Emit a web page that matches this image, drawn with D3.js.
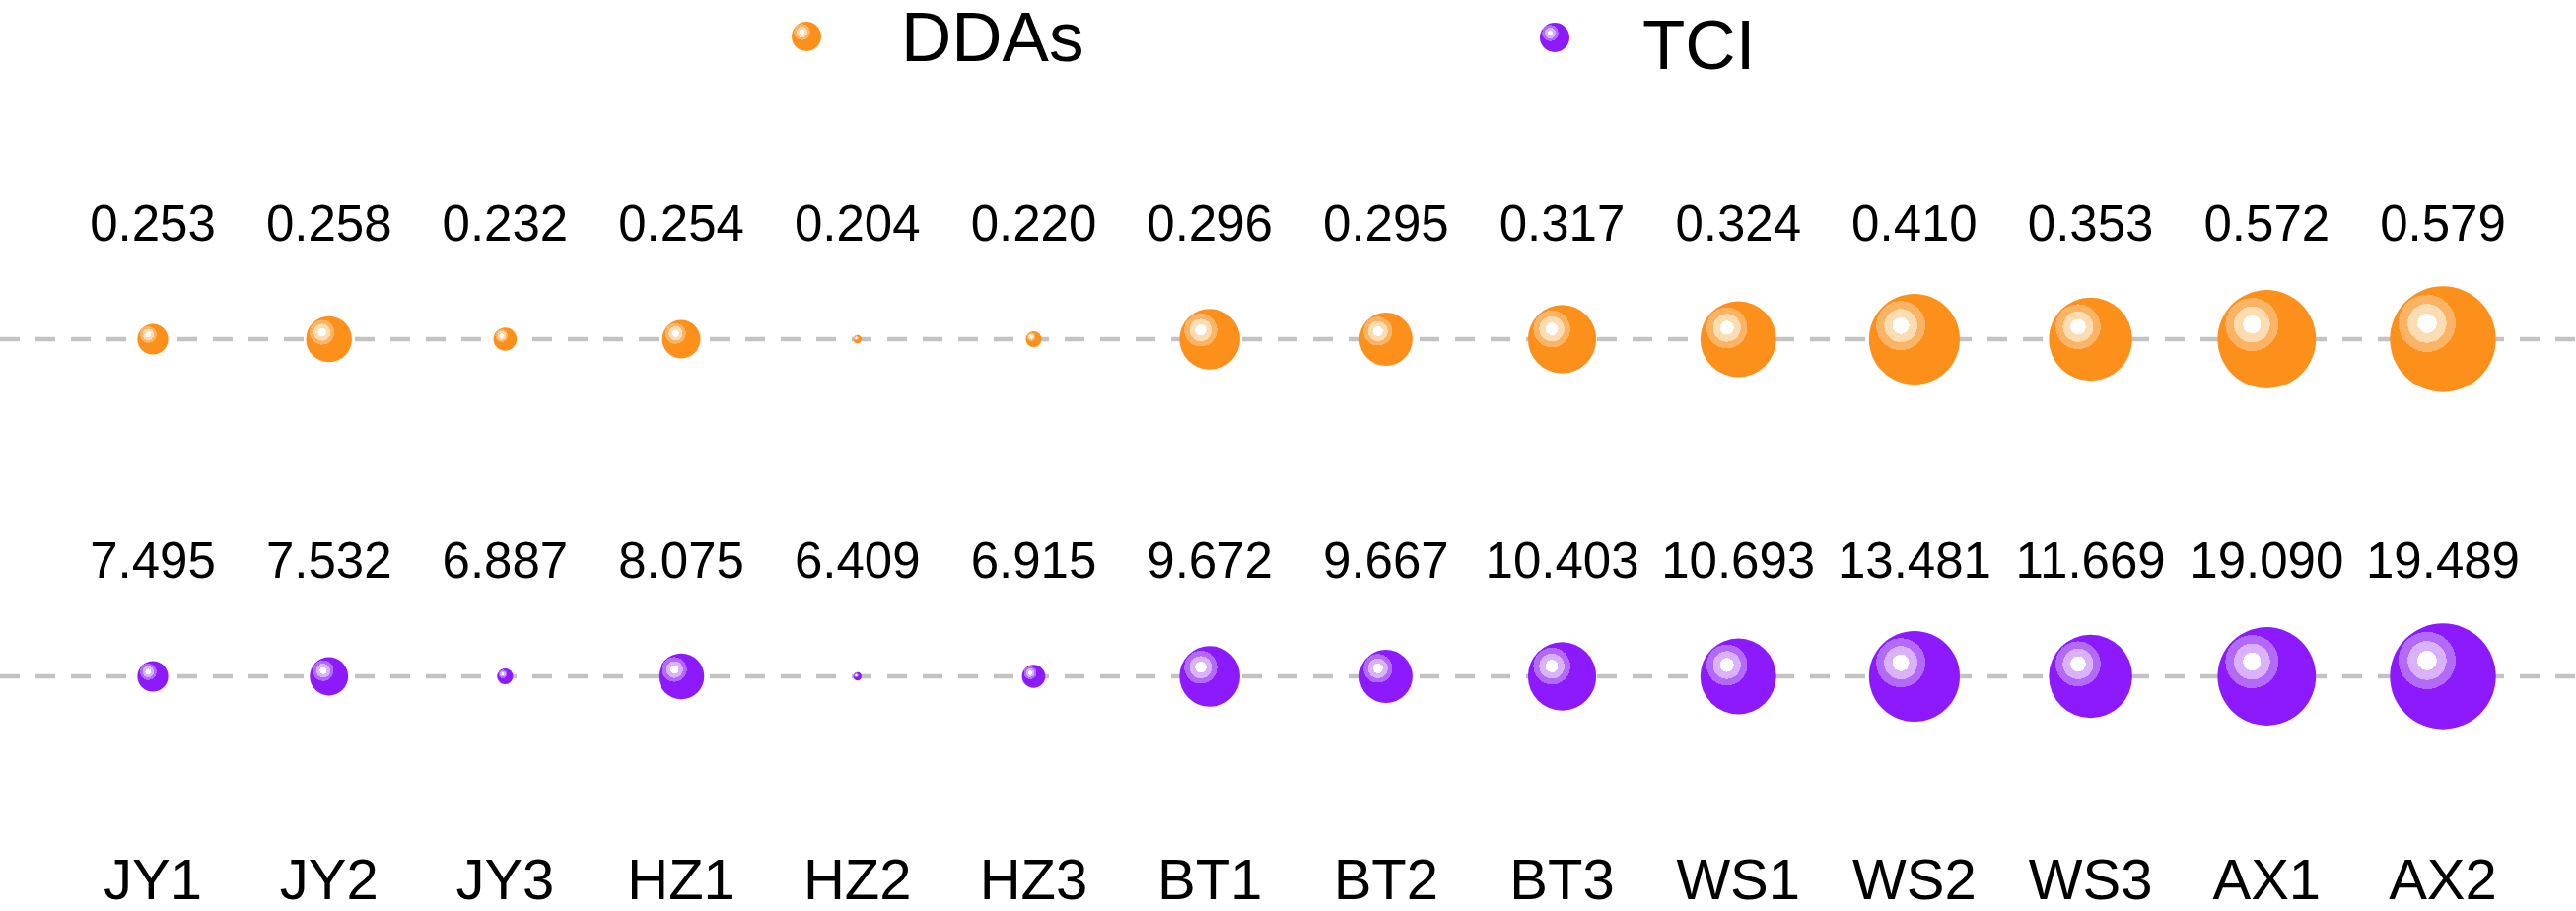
<!DOCTYPE html>
<html>
<head>
<meta charset="utf-8">
<script src="https://cdn.jsdelivr.net/npm/d3@7"></script>
<style>
body { margin: 0; background: #fff; }
svg text { font-family: "Liberation Sans", Arial, sans-serif; fill: #000; }
</style>
</head>
<body>
<script>
var sites = ["JY1", "JY2", "JY3", "HZ1", "HZ2", "HZ3", "BT1", "BT2", "BT3", "WS1", "WS2", "WS3", "AX1", "AX2"];
var ddas = [0.253, 0.258, 0.232, 0.254, 0.204, 0.220, 0.296, 0.295, 0.317, 0.324, 0.410, 0.353, 0.572, 0.579];
var tci = [7.495, 7.532, 6.887, 8.075, 6.409, 6.915, 9.672, 9.667, 10.403, 10.693, 13.481, 11.669, 19.090, 19.489];
var seriesNames = ["DDAs", "TCI"];

var w = 2613;
var h = 924;

var colors = {
    DDAs: { base: "#fd901b", ring: "#fbb466", inner: "#fddcb2" },
    TCI: { base: "#8d19fd", ring: "#b26bf8", inner: "#dab2fb" }
};

var svg = d3.select("body")
            .append("svg")
            .attr("width", w)
            .attr("height", h);

var x = d3.scalePoint().domain(sites).range([155, 2478]);
var y = d3.scalePoint().domain(seriesNames).range([344, 686]);
var r = d3.scaleLinear().domain([1, sites.length]).range([4.2, 53.7]);
var fmt = d3.format(".3f");

function ranks(values) {
    var sorted = values.slice().sort(d3.ascending);
    return values.map(function(v) { return sorted.indexOf(v) + 1; });
}

// shiny ball fill: stepped radial gradient in the upper left
var defs = svg.append("defs");
seriesNames.forEach(function(s) {
    var g = defs.append("radialGradient")
        .attr("id", "ball-" + s)
        .attr("cx", 0.35).attr("cy", 0.35).attr("r", 0.27)
        .attr("fx", 0.35).attr("fy", 0.35);
    var stops = [
        [0, "#ffffff"], [0.34, "#ffffff"],
        [0.34, colors[s].inner], [0.68, colors[s].inner],
        [0.68, colors[s].ring], [1, colors[s].ring],
        [1, colors[s].base]
    ];
    g.selectAll("stop")
        .data(stops)
        .enter()
        .append("stop")
        .attr("offset", function(d) { return d[0]; })
        .attr("stop-color", function(d) { return d[1]; });
});

// dashed guide lines
svg.selectAll("line.guide")
    .data(seriesNames)
    .enter()
    .append("line")
    .attr("class", "guide")
    .attr("x1", 0)
    .attr("x2", w)
    .attr("y1", function(d) { return y(d); })
    .attr("y2", function(d) { return y(d); })
    .style("stroke", "#c3c3c3")
    .style("stroke-width", 4.5)
    .style("stroke-dasharray", "20,16");

function drawRow(name, values) {
    var rk = ranks(values);
    var rows = values.map(function(v, i) { return { site: sites[i], value: v, rank: rk[i] }; });

    svg.selectAll("circle.b-" + name)
        .data(rows)
        .enter()
        .append("circle")
        .attr("class", "b-" + name)
        .attr("cx", function(d) { return x(d.site); })
        .attr("cy", y(name))
        .attr("r", function(d) { return r(d.rank); })
        .style("fill", "url(#ball-" + name + ")");

    svg.selectAll("text.v-" + name)
        .data(rows)
        .enter()
        .append("text")
        .attr("class", "v-" + name)
        .attr("x", function(d) { return x(d.site); })
        .attr("y", y(name) - 100)
        .attr("text-anchor", "middle")
        .style("font-size", "51px")
        .text(function(d) { return fmt(d.value); });
}

drawRow("DDAs", ddas);
drawRow("TCI", tci);

svg.selectAll("text.site")
    .data(sites)
    .enter()
    .append("text")
    .attr("class", "site")
    .attr("x", function(d) { return x(d); })
    .attr("y", 912)
    .attr("text-anchor", "middle")
    .style("font-size", "58px")
    .text(function(d) { return d; });

// legend
var legend = [
    { name: "DDAs", cx: 818, cy: 37, tx: 914, ty: 62 },
    { name: "TCI", cx: 1577, cy: 38, tx: 1666, ty: 70 }
];
svg.selectAll("circle.legend")
    .data(legend)
    .enter()
    .append("circle")
    .attr("class", "legend")
    .attr("cx", function(d) { return d.cx; })
    .attr("cy", function(d) { return d.cy; })
    .attr("r", 15)
    .style("fill", function(d) { return "url(#ball-" + d.name + ")"; });
svg.selectAll("text.legend")
    .data(legend)
    .enter()
    .append("text")
    .attr("class", "legend")
    .attr("x", function(d) { return d.tx; })
    .attr("y", function(d) { return d.ty; })
    .style("font-size", "71px")
    .text(function(d) { return d.name; });
</script>
</body>
</html>
